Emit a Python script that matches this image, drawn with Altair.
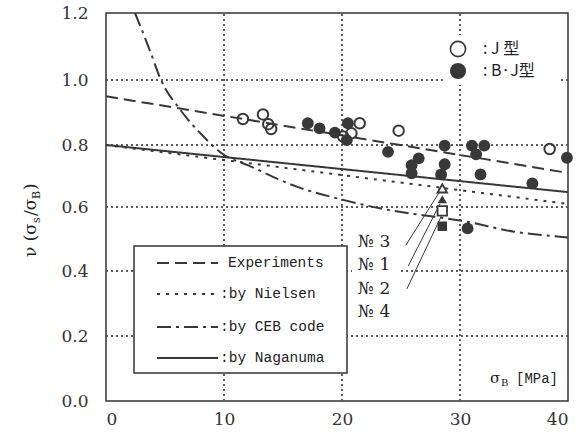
import altair as alt
import pandas as pd

# ---------------- data ----------------
# design lines  (sigma_B [MPa], nu)
exp_s = [0, 40]
exp_v = [0.95, 0.71]
niel_s = [0, 40]
niel_v = [0.80, 0.61]
naga_s = [0, 40]
naga_v = [0.80, 0.648]
ceb_s = [2.46, 3.7, 4.66, 6.3, 8.0, 10.0, 12.0, 16.2, 20.1, 23.2, 26.5, 30.0, 35.0, 40.0]
ceb_v = [1.2, 1.09, 1.0, 0.908, 0.836, 0.768, 0.735, 0.665, 0.623, 0.596, 0.576, 0.558, 0.523, 0.505]

# test results
open_s = [11.6, 13.3, 13.75, 14.0, 20.1, 20.8, 21.5, 24.8, 38.3]
open_v = [0.88, 0.894, 0.864, 0.849, 0.826, 0.836, 0.867, 0.844, 0.787]
filled_s = [17.1, 18.1, 19.4, 20.5, 20.4, 23.9, 26.5, 25.9, 25.9, 28.7, 28.7, 28.4,
            31.1, 32.25, 31.5, 31.9, 36.7, 39.9, 30.7]
filled_v = [0.867, 0.851, 0.838, 0.867, 0.815, 0.778, 0.757, 0.735, 0.709, 0.798, 0.738, 0.705,
            0.798, 0.798, 0.77, 0.705, 0.676, 0.759, 0.533]

# specimens No.3, No.1, No.2, No.4
spec_names = ["№ 3", "№ 1", "№ 2", "№ 4"]
spec_s = [28.5, 28.5, 28.5, 28.5]
spec_v = [0.66, 0.625, 0.588, 0.54]
spec_shape = ["triangle-up", "triangle-up", "square", "square"]
spec_filled = [False, True, False, True]
# leader lines (from label to marker), data units
lead_s1 = [25.4, 25.6, 25.5]
lead_v1 = [0.48, 0.415, 0.345]
lead_s2 = [28.2, 28.3, 28.4]
lead_v2 = [0.645, 0.61, 0.57]

# ticks / gridlines
x_ticks = [0, 10, 20, 30, 40]
y_ticks = [0, 0.2, 0.4, 0.6, 0.8, 1.0, 1.2]
x_grid = [10, 20, 30]
y_grid = [0.2, 0.4, 0.6, 0.8, 1.0]

legend_labels = ["Experiments", ":by Nielsen", ":by CEB code", ":by Naganuma"]
legend_dash = [[12, 6], [3, 6], [14, 5, 3, 5], [1, 0]]

INK = "#383838"
W, H = 462, 388

xs = alt.Scale(domain=x_ticks, range=[0, 118, 236, 354, 462], nice=False, zero=False)
ys = alt.Scale(domain=y_ticks, range=[388, 323, 258, 194, 132, 67, 0], nice=False, zero=False)

xax = alt.Axis(values=x_ticks, format="d", labelPadding=10, grid=False)
yax = alt.Axis(values=y_ticks, format=".1f", labelPadding=18, grid=False)

one = pd.DataFrame({"a": [0]})


def X(f):
    return alt.X(f, scale=xs, axis=xax, title=None)


def Y(f):
    return alt.Y(f, scale=ys, axis=yax, title=None)


def line_layer(s, v, dash, interp="linear", width=2, color=INK):
    df = pd.DataFrame({"s": s, "v": v})
    return alt.Chart(df).mark_line(color=color, strokeWidth=width, strokeDash=dash, interpolate=interp,
                                   clip=True).encode(x=X("s:Q"), y=Y("v:Q"))


# gridlines: same construction as the design lines, finer dots
grid_layers = []
for g in x_grid:
    grid_layers.append(line_layer([g, g], [0, 1.2], [2, 3], width=2, color="#5a5a5a"))
for g in y_grid:
    grid_layers.append(line_layer([0, 40], [g, g], [2, 3], width=2, color="#5a5a5a"))

base_axes = line_layer(naga_s, naga_v, [1, 0])
l_exp = line_layer(exp_s, exp_v, [12, 6])
l_niel = line_layer(niel_s, niel_v, [3, 6])
l_ceb = line_layer(ceb_s, ceb_v, [14, 5, 3, 5], "monotone")


def patch(x1, x2, y1, y2, **kw):
    return alt.Chart(one).mark_rect(fill="white", **kw).encode(
        x=alt.value(x1), x2=alt.value(x2), y=alt.value(y1), y2=alt.value(y2))


patches = [patch(337, 454, 22, 72), patch(246, 294, 216, 312)]
legbox = patch(28, 241, 233, 360, stroke="#333", strokeWidth=1.5)

pts_open = alt.Chart(pd.DataFrame({"s": open_s, "v": open_v})).mark_point(
    shape="circle", size=110, filled=False, stroke=INK, strokeWidth=2, opacity=1).encode(
    x=X("s:Q"), y=Y("v:Q"))
pts_fill = alt.Chart(pd.DataFrame({"s": filled_s, "v": filled_v})).mark_point(
    shape="circle", size=140, filled=True, fill=INK, opacity=1).encode(
    x=X("s:Q"), y=Y("v:Q"))

spec_df = pd.DataFrame({"s": spec_s, "v": spec_v})
spec_layers = []
for i in range(len(spec_s)):
    d = spec_df.iloc[[i]]
    if spec_filled[i]:
        m = alt.Chart(d).mark_point(shape=spec_shape[i], size=90, filled=True, fill=INK, opacity=1)
    else:
        m = alt.Chart(d).mark_point(shape=spec_shape[i], size=90, filled=True, fill="white",
                                    stroke=INK, strokeWidth=1.8, opacity=1)
    spec_layers.append(m.encode(x=X("s:Q"), y=Y("v:Q")))

lead = alt.Chart(pd.DataFrame({"s1": lead_s1, "v1": lead_v1, "s2": lead_s2, "v2": lead_v2})).mark_rule(
    color=INK, strokeWidth=1).encode(x=X("s1:Q"), y=Y("v1:Q"), x2="s2:Q", y2="v2:Q")

no_layers = []
for t, py in zip(spec_names, [229, 252, 276, 299]):
    no_layers.append(alt.Chart(one).mark_text(align="left", baseline="middle", font="DejaVu Serif",
                                              fontSize=17, color="#222", text=t).encode(
        x=alt.value(252), y=alt.value(py)))

# legend lines + text
leg_layers = []
for i, (lab, dash) in enumerate(zip(legend_labels, legend_dash)):
    yy = [250, 281, 314, 345][i]
    leg_layers.append(alt.Chart(one).mark_rule(color=INK, strokeWidth=2, strokeDash=dash).encode(
        x=alt.value(51), x2=alt.value(112), y=alt.value(yy)))
    leg_layers.append(alt.Chart(one).mark_text(align="left", baseline="middle", font="Liberation Mono",
                                               fontSize=14.5, color="#222", text=lab).encode(
        x=alt.value(122 if i == 0 else 114), y=alt.value(yy)))

# top-right legend
tr_open = alt.Chart(one).mark_point(shape="circle", size=230, filled=False, stroke=INK, strokeWidth=1.6,
                                    opacity=1).encode(x=alt.value(352), y=alt.value(36))
tr_fill = alt.Chart(one).mark_point(shape="circle", size=260, filled=True, fill=INK, opacity=1).encode(
    x=alt.value(352), y=alt.value(58))
tr_t1 = alt.Chart(one).mark_text(align="left", baseline="middle", font="Noto Sans CJK JP", fontSize=16,
                                 color="#222", text=":  J 型").encode(x=alt.value(377), y=alt.value(36))
tr_t2 = alt.Chart(one).mark_text(align="left", baseline="middle", font="Noto Sans CJK JP", fontSize=16,
                                 color="#222", text=": B·J型").encode(x=alt.value(377), y=alt.value(58))

# x axis title inside plot: σB [MPa]
xt1 = alt.Chart(one).mark_text(align="left", baseline="alphabetic", font="DejaVu Serif", fontSize=15,
                               color="#222", text="σ").encode(x=alt.value(384), y=alt.value(370))
xt2 = alt.Chart(one).mark_text(align="left", baseline="alphabetic", font="DejaVu Serif", fontSize=10,
                               color="#222", text="B").encode(x=alt.value(395), y=alt.value(373))
xt3 = alt.Chart(one).mark_text(align="left", baseline="alphabetic", font="Liberation Mono", fontSize=14,
                               color="#222", text="[MPa]").encode(x=alt.value(410), y=alt.value(370))

# y axis title, rotated pieces: ν (σs/σB)
pieces = [("ν (σ", 17, 0, 34), ("s", 11, 4, 7), ("/σ", 17, 0, 17), ("B", 11, 4, 9), (")", 17, 0, 7)]
ytitle = []
ypos = 244
for txt, fs, dx, w in pieces:
    ytitle.append(alt.Chart(one).mark_text(align="left", baseline="alphabetic", angle=270,
                                           font="DejaVu Serif", fontSize=fs, color="#222", text=txt).encode(
        x=alt.value(-70 + dx), y=alt.value(ypos)))
    ypos -= w

chart = alt.layer(
    *grid_layers,
    base_axes, l_exp, l_niel, l_ceb,
    *patches, legbox, *leg_layers,
    lead, pts_open, pts_fill, *spec_layers, *no_layers,
    tr_open, tr_fill, tr_t1, tr_t2, xt1, xt2, xt3, *ytitle,
).properties(
    width=W, height=H,
    padding={"left": 106, "top": 13, "right": 16, "bottom": 36},
    autosize=alt.AutoSizeParams(type="none"),
    background="white",
).configure_view(stroke="#333", strokeWidth=1.5).configure_axis(
    grid=False, ticks=False, tickSize=0, domain=False,
    labelFont="DejaVu Serif", labelFontSize=17, labelColor="#333",
)

chart.save("out.html", embed_options={"renderer": "svg", "actions": False})
